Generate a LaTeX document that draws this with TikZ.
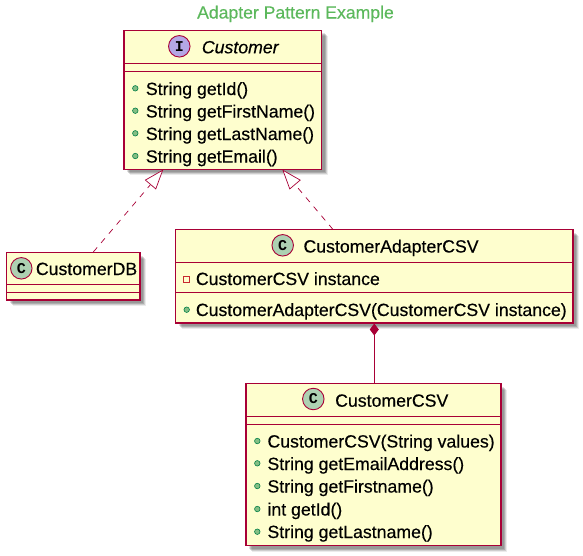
\documentclass[tikz,border=0pt]{standalone}
\usepackage{fontspec}
\setmainfont[RawFeature={embolden=0.35}]{Liberation Sans}
\newfontfamily\spotfont{Liberation Mono}
\usetikzlibrary{arrows.meta,shadows}
\definecolor{umlborder}{HTML}{A80036}
\definecolor{umlfill}{HTML}{FEFECE}
\definecolor{umltitle}{HTML}{5CB85C}
\definecolor{umlclass}{HTML}{ADD1B2}
\definecolor{umliface}{HTML}{B4A7E5}
\definecolor{umlpublic}{HTML}{84BE84}
\definecolor{umlpublicb}{HTML}{038048}
\definecolor{umlprivate}{HTML}{C82930}
\tikzset{
  classbox/.style={draw=umlborder, line width=1.2pt, fill=umlfill, inner sep=0pt, outer sep=0pt,
    general shadow={fill=black, opacity=.08, shadow xshift=6pt, shadow yshift=-6pt},
    general shadow={fill=black, opacity=.12, shadow xshift=5pt, shadow yshift=-5pt},
    general shadow={fill=black, opacity=.16, shadow xshift=4pt, shadow yshift=-4pt},
    general shadow={fill=black, opacity=.12, shadow xshift=3pt, shadow yshift=-3pt}},
  divider/.style={draw=umlborder, line width=1pt},
  spot/.style={circle, draw=umlborder, line width=.9pt, minimum size=21.5pt, inner sep=0pt,
    font=\spotfont\bfseries\fontsize{15}{15}\selectfont},
  member/.style={anchor=base west, inner sep=0pt, font=\fontsize{17.7}{20}\selectfont},
  pubdot/.style={circle, draw=umlpublicb, fill=umlpublic, line width=.6pt, minimum size=5.5pt, inner sep=0pt},
  privdot/.style={rectangle, draw=umlprivate, fill=umlfill, line width=.8pt, minimum size=6pt, inner sep=0pt},
  realize/.style={draw=umlborder, line width=.7pt, dashed, dash pattern=on 6pt off 6pt,
    -{Triangle[open, fill=white, length=20pt, width=14.5pt, line width=.7pt]}},
  compose/.style={draw=umlborder, line width=.8pt,
    {Diamond[length=12pt, width=9pt, fill=umlborder]}-}
}
\begin{document}
\begin{tikzpicture}[x=1pt, y=-1pt]
\useasboundingbox (0,0) rectangle (583,555);
\node[font=\fontsize{17.6}{20}\selectfont, text=umltitle, anchor=base, inner sep=0pt] (title) at (295.5,18.5) {Adapter Pattern Example};
% interface
\node[classbox, minimum width=197.5pt, minimum height=139pt] (customer) at (222.75,99.75) {};
\draw[divider] (customer.west |- 0,63) -- (customer.east |- 0,63);
\draw[divider] (customer.west |- 0,71) -- (customer.east |- 0,71);
\node[spot, fill=umliface] (customerspot) at (179.3,46.3) {I};
\node[member, font=\fontsize{17.7}{20}\selectfont\itshape] (customername) at (201.7,53.3) {Customer};
\node[pubdot] (dota) at (135.3,88.3) {};
\node[member] (geta) at (145.7,95) {String getId()};
\node[pubdot] (dotb) at (135.3,110.7) {};
\node[member] (getb) at (145.7,117.5) {String getFirstName()};
\node[pubdot] (dotc) at (135.3,133.3) {};
\node[member] (getc) at (145.7,140) {String getLastName()};
\node[pubdot] (dotd) at (135.3,156) {};
\node[member] (getd) at (145.7,162.6) {String getEmail()};
% plain class
\node[classbox, minimum width=133.5pt, minimum height=47.5pt] (db) at (73.25,276.25) {};
\draw[divider] (db.west |- 0,284) -- (db.east |- 0,284);
\draw[divider] (db.west |- 0,292) -- (db.east |- 0,292);
\node[spot, fill=umlclass] (dbspot) at (21.3,268.3) {C};
\node[member] (dbname) at (35.7,275) {CustomerDB};
% adapter
\node[classbox, minimum width=397.5pt, minimum height=93.5pt] (adapter) at (374.25,276.25) {};
\draw[divider] (adapter.west |- 0,262) -- (adapter.east |- 0,262);
\draw[divider] (adapter.west |- 0,292) -- (adapter.east |- 0,292);
\node[spot, fill=umlclass] (adapterspot) at (282.7,245.3) {C};
\node[member] (adaptername) at (303.3,252.5) {CustomerAdapterCSV};
\node[privdot] (adapterpriv) at (186.7,279.3) {};
\node[member] (adapterfield) at (195.7,285) {CustomerCSV instance};
\node[pubdot] (adapterdot) at (186.7,309.7) {};
\node[member] (adaptermake) at (195.7,316) {CustomerAdapterCSV(CustomerCSV instance)};
% adaptee
\node[classbox, minimum width=255pt, minimum height=162pt] (csv) at (373.5,464.7) {};
\draw[divider] (csv.west |- 0,416) -- (csv.east |- 0,416);
\draw[divider] (csv.west |- 0,424) -- (csv.east |- 0,424);
\node[spot, fill=umlclass] (csvspot) at (313.3,399) {C};
\node[member] (csvname) at (335,406.7) {CustomerCSV};
\node[pubdot] (csvdota) at (257.3,441) {};
\node[member] (csvgeta) at (267.3,447.5) {CustomerCSV(String values)};
\node[pubdot] (csvdotb) at (257.3,463.3) {};
\node[member] (csvgetb) at (267.3,470) {String getEmailAddress()};
\node[pubdot] (csvdotc) at (257.3,486) {};
\node[member] (csvgetc) at (267.3,492.5) {String getFirstname()};
\node[pubdot] (csvdotd) at (257.3,509) {};
\node[member] (csvgetd) at (267.3,515.5) {int getId()};
\node[pubdot] (csvdote) at (257.3,531.7) {};
\node[member] (csvgete) at (267.3,538) {String getLastname()};
% connectors
\coordinate (dbend) at (93.3,252);
\coordinate (leftend) at (163.3,169.5);
\coordinate (adapterend) at (333,229.5);
\coordinate (rightend) at (282.3,169.5);
\coordinate (composeend) at (374.3,323.5);
\coordinate (csvend) at (374.3,383.7);
\draw[realize] (dbend) -- (leftend);
\draw[realize] (adapterend) -- (rightend);
\draw[compose] (composeend) -- (csvend);
\end{tikzpicture}
\end{document}
